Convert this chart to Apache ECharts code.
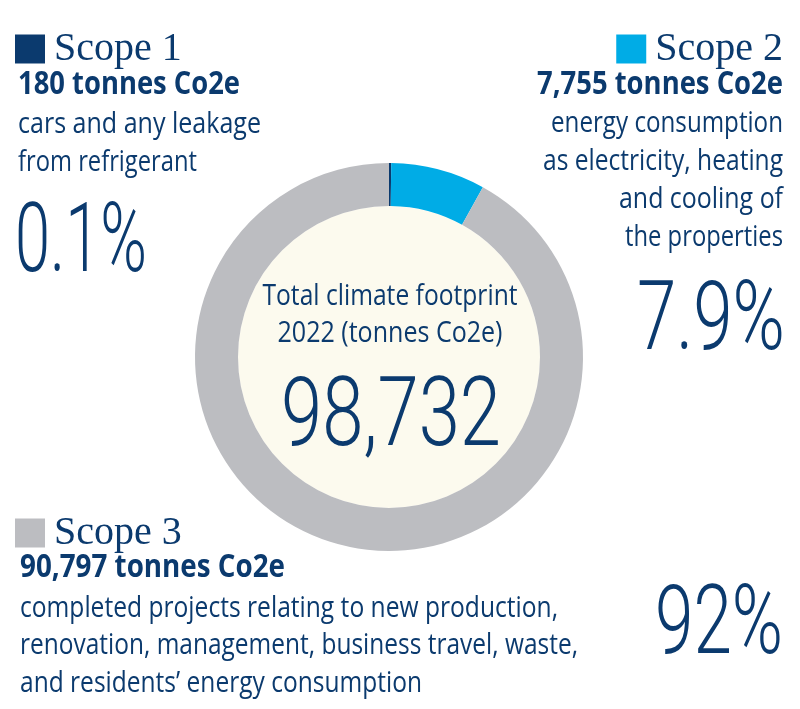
<!DOCTYPE html>
<html>
<head>
<meta charset="utf-8">
<script src="https://cdn.jsdelivr.net/npm/echarts@6/dist/echarts.min.js"></script>
<style>
html,body{margin:0;padding:0;background:#ffffff;}
#chart{width:800px;height:709px;}
</style>
</head>
<body>
<div id="chart"></div>
<script>
// ---------------- data ----------------
const scopeNames = ['Scope 1', 'Scope 2', 'Scope 3'];
const scopeTonnes = [180, 7755, 90797];
const scopeShares = ['0.1%', '7.9%', '92%'];
const scopeDescriptions = [
  ['cars and any leakage', 'from refrigerant'],
  ['energy consumption', 'as electricity, heating', 'and cooling of', 'the properties'],
  ['completed projects relating to new production,', 'renovation, management, business travel, waste,', 'and residents\u2019 energy consumption']
];
const totalLabel = ['Total climate footprint', '2022 (tonnes Co2e)'];
const unitLabel = ' tonnes Co2e';

// ---------------- styles / layout ----------------
const NAVY = '#0B3A6E';
const COLORS = ['#0B3A6E', '#00ACE6', '#BCBDC1'];
const CREAM = '#FCFAEE';
const CX = 389, CY = 357;

const ST = {
  body:  { font: "400 29px 'Open Sans'", size: 29, k: 0.27 },
  bold:  { font: "700 33px 'Open Sans'", size: 33, k: 0.27 },
  big:   { font: "300 97px Roboto", size: 97, k: 0.25 }
};

const ctx = document.createElement('canvas').getContext('2d');
function measure(text, font) { ctx.font = font; return ctx.measureText(text).width; }

// anchor x, baseline y, target width, alignment
function textEl(str, x, baseline, width, st, align) {
  const w = measure(str, st.font);
  const sx = width / w;
  return {
    type: 'text',
    x: x,
    y: baseline - st.k * st.size,
    scaleX: sx,
    silent: true,
    style: {
      text: str,
      font: st.font,
      fill: NAVY,
      align: align, textAlign: align,
      verticalAlign: 'middle', textVerticalAlign: 'middle'
    }
  };
}

const fmt = v => v.toLocaleString('en-US');
const total = scopeTonnes.reduce((a, b) => a + b, 0);

const els = [];
// donut hole
els.push({ type: 'circle', shape: { cx: CX, cy: CY, r: 151 }, style: { fill: CREAM }, z: 0, silent: true });

// Scope 1 (left top)
els.push(textEl(fmt(scopeTonnes[0]) + unitLabel, 18, 94, 222, ST.bold, 'left'));
const s1b = [133, 171], s1w = [243, 179];
scopeDescriptions[0].forEach((t, i) => els.push(textEl(t, 18, s1b[i], s1w[i], ST.body, 'left')));
els.push(textEl(scopeShares[0], 15, 271, 132, ST.big, 'left'));

// Scope 2 (right top)
els.push(textEl(fmt(scopeTonnes[1]) + unitLabel, 783, 94, 246, ST.bold, 'right'));
const s2b = [132, 170, 208, 246], s2w = [232, 240, 164, 158];
scopeDescriptions[1].forEach((t, i) => els.push(textEl(t, 783, s2b[i], s2w[i], ST.body, 'right')));
els.push(textEl(scopeShares[1], 785, 349, 148, ST.big, 'right'));

// centre
els.push(textEl(totalLabel[0], 390, 305, 255, ST.body, 'center'));
els.push(textEl(totalLabel[1], 390, 342, 225, ST.body, 'center'));
els.push(textEl(fmt(total), 391, 445, 220, ST.big, 'center'));

// Scope 3 (bottom)
els.push(textEl(fmt(scopeTonnes[2]) + unitLabel, 20, 577, 265, ST.bold, 'left'));
const s3b = [617, 654, 692], s3w = [538, 558, 402];
scopeDescriptions[2].forEach((t, i) => els.push(textEl(t, 20, s3b[i], s3w[i], ST.body, 'left')));
els.push(textEl(scopeShares[2], 783, 653, 128, ST.big, 'right'));

const legendCommon = {
  orient: 'horizontal',
  icon: 'rect',
  itemWidth: 30,
  itemHeight: 29,
  padding: 0,
  selectedMode: false,
  textStyle: { fontFamily: 'Liberation Serif', fontSize: 40, color: NAVY, lineHeight: 29, padding: [0, 0, 0, 4] }
};

const chart = echarts.init(document.getElementById('chart'), null, { renderer: 'canvas' });
chart.setOption({
  animation: false,
  backgroundColor: '#ffffff',
  legend: [
    Object.assign({ data: [scopeNames[0]], left: 15, top: 29 }, legendCommon),
    Object.assign({ data: [scopeNames[1]], right: 17, top: 29 }, legendCommon),
    Object.assign({ data: [scopeNames[2]], left: 15, top: 513 }, legendCommon)
  ],
  graphic: { elements: els },
  series: [{
    type: 'pie',
    z: 3,
    center: [CX, CY],
    radius: [151, 194],
    startAngle: 90,
    clockwise: true,
    silent: true,
    label: { show: false },
    labelLine: { show: false },
    emphasis: { disabled: true },
    itemStyle: { borderWidth: 0 },
    data: scopeNames.map((n, i) => ({ name: n, value: scopeTonnes[i], itemStyle: { color: COLORS[i] } }))
  }]
});
</script>
</body>
</html>
